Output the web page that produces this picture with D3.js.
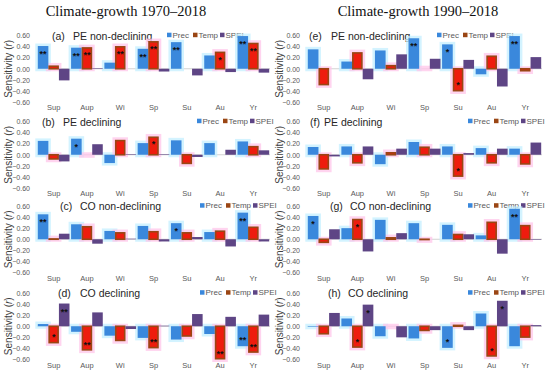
<!DOCTYPE html>
<html>
<head>
<meta charset="utf-8">
<script src="https://cdn.jsdelivr.net/npm/d3@7"></script>
<style>
  body { margin: 0; background: #fff; }
  text { font-family: Arial, "Liberation Sans", sans-serif; }
</style>
</head>
<body>
<svg id="chart" width="550" height="377"></svg>
<script>
// categories / series
const seasons = ["Sup", "Aup", "Wi", "Sp", "Su", "Au", "Yr"];
const seriesNames = ["Prec", "Temp", "SPEI"];
const yTicks = [0.6, 0.4, 0.2, 0, -0.2, -0.4, -0.6];
const periodTitles = ["Climate-growth 1970\u20132018", "Climate-growth 1990\u20132018"];
const panelLetters = ["(a)", "(b)", "(c)", "(d)", "(e)", "(f)", "(g)", "(h)"];
const panelNames = ["PE non-declining", "PE declining", "CO non-declining", "CO declining",
                    "PE non-declining", "PE declining", "CO non-declining", "CO declining"];

// (a) 1970-2018 PE non-declining
const precA = [0.41, 0.38, 0.11, 0.36, 0.48, 0.24, 0.59];
const tempA = [0.06, 0.39, 0.41, 0.50, 0.00, 0.31, 0.47];
const speiA = [-0.21, 0.01, 0.00, -0.05, -0.12, -0.06, -0.07];
const precSigA = ["**", "**", "", "**", "**", "", "**"];
const tempSigA = ["", "**", "**", "**", "", "*", "**"];
const speiSigA = ["", "", "", "", "", "", ""];
// (b) 1970-2018 PE declining
const precB = [0.25, 0.29, -0.15, 0.21, 0.26, 0.21, 0.24];
const tempB = [-0.09, -0.01, 0.27, 0.33, -0.17, 0.00, 0.16];
const speiB = [-0.12, 0.19, 0.01, 0.01, -0.04, 0.09, 0.08];
const precSigB = ["", "*", "", "", "", "", ""];
const tempSigB = ["", "", "", "*", "", "", ""];
const speiSigB = ["", "", "", "", "", "", ""];
// (c) 1970-2018 CO non-declining
const precC = [0.45, 0.27, 0.15, 0.24, 0.29, 0.13, 0.48];
const tempC = [0.02, 0.24, 0.13, 0.15, 0.13, 0.16, 0.23];
const speiC = [0.10, -0.08, 0.01, -0.04, 0.04, -0.13, -0.04];
const precSigC = ["**", "", "", "", "*", "", "**"];
const tempSigC = ["", "", "", "", "", "", ""];
const speiSigC = ["", "", "", "", "", "", ""];
// (d) 1970-2018 CO declining
const precD = [0.04, -0.10, -0.17, -0.21, -0.24, -0.14, -0.36];
const tempD = [-0.31, -0.44, -0.27, -0.40, -0.19, -0.60, -0.48];
const speiD = [0.41, 0.25, -0.05, 0.01, 0.22, 0.17, 0.21];
const precSigD = ["", "", "", "", "", "", "**"];
const tempSigD = ["*", "**", "", "**", "", "**", "**"];
const speiSigD = ["**", "", "", "", "", "", ""];
// (e) 1990-2018 PE non-declining
const precE = [0.35, 0.13, 0.33, 0.55, 0.44, -0.10, 0.59];
const tempE = [-0.30, 0.30, 0.07, 0.01, -0.41, 0.24, -0.05];
const speiE = [0.00, -0.19, 0.26, 0.18, 0.16, -0.32, 0.21];
const precSigE = ["", "", "", "**", "*", "", "**"];
const tempSigE = ["", "", "", "", "*", "", ""];
const speiSigE = ["", "", "", "", "", "", ""];
// (f) 1990-2018 PE declining
const precF = [0.14, 0.15, -0.17, 0.23, 0.15, 0.12, 0.11];
const tempF = [-0.27, -0.16, 0.05, 0.15, -0.40, -0.16, -0.18];
const speiF = [-0.03, 0.15, 0.11, 0.11, 0.03, 0.11, 0.22];
const precSigF = ["", "", "", "", "", "", ""];
const tempSigF = ["", "", "", "", "*", "", ""];
const speiSigF = ["", "", "", "", "", "", ""];
// (g) 1990-2018 CO non-declining
const precG = [0.42, 0.20, 0.35, 0.29, 0.26, 0.07, 0.55];
const tempG = [-0.07, 0.37, 0.04, -0.02, 0.10, 0.32, 0.26];
const speiG = [0.18, -0.22, 0.11, 0.00, 0.09, -0.26, -0.01];
const precSigG = ["*", "", "", "", "", "", "**"];
const tempSigG = ["", "*", "", "", "", "", ""];
const speiSigG = ["", "", "", "", "", "", ""];
// (h) 1990-2018 CO declining
const precH = [-0.01, 0.14, -0.18, -0.22, -0.39, 0.23, -0.36];
const tempH = [-0.15, -0.39, -0.01, -0.09, 0.03, -0.55, -0.21];
const speiH = [0.24, 0.39, -0.20, -0.07, -0.07, 0.46, 0.02];
const precSigH = ["", "", "", "", "*", "", ""];
const tempSigH = ["", "*", "", "", "", "*", ""];
const speiSigH = ["", "*", "", "", "", "*", ""];

const panels = [
  [precA, tempA, speiA, precSigA, tempSigA, speiSigA],
  [precB, tempB, speiB, precSigB, tempSigB, speiSigB],
  [precC, tempC, speiC, precSigC, tempSigC, speiSigC],
  [precD, tempD, speiD, precSigD, tempSigD, speiSigD],
  [precE, tempE, speiE, precSigE, tempSigE, speiSigE],
  [precF, tempF, speiF, precSigF, tempSigF, speiSigF],
  [precG, tempG, speiG, precSigG, tempSigG, speiSigG],
  [precH, tempH, speiH, precSigH, tempSigH, speiSigH]
];

// layout
const colX = [[37, 270], [307, 542]];
const rowTop = [35.5, 121.5, 206, 293];
const plotH = 66.5;
const letterX = [52, 42, 60, 58, 309, 310, 330, 328];
const nameX = [73, 63, 80, 80, 331, 324, 350, 348];
const legendX = [167, 197, 200, 200, 437, 468, 468, 468];
const legendStep = [0, 26, 53];
const fill = { Prec: "#3a88dc", Temp: "#ee1c0e", SPEI: "#5e4585" };
const glow = { Prec: "#c4efff", Temp: "#ffc6ea", SPEI: "#ece6f4" };
const legendFill = { Prec: "#3a88dc", Temp: "#9a4614", SPEI: "#5e4585" };

const svg = d3.select("#chart");

periodTitles.forEach((t, i) => {
  svg.append("text")
    .attr("x", i ? 418 : 126).attr("y", 16)
    .attr("text-anchor", "middle")
    .style("font-family", "'Liberation Serif', 'DejaVu Serif', serif")
    .style("font-size", "14.5px")
    .attr("fill", "#111")
    .text(t);
});

panels.forEach((p, pi) => {
  const col = pi < 4 ? 0 : 1;
  const top = rowTop[pi % 4];
  const [x0, x1] = colX[col];
  const y = d3.scaleLinear().domain([-0.6, 0.6]).range([top + plotH, top]);
  const x = d3.scaleBand().domain(seasons).range([x0, x1]);
  const xs = d3.scaleBand().domain(seriesNames).range([0.8, x.bandwidth() - 0.8]);
  const g = svg.append("g");

  // y tick labels
  g.append("g")
    .attr("transform", `translate(${x0},0)`)
    .call(d3.axisLeft(y).tickValues(yTicks).tickSize(0).tickPadding(7).tickFormat(d3.format(".2f")))
    .call(a => a.select(".domain").remove())
    .selectAll("text")
    .attr("font-family", "Arial, 'Liberation Sans', sans-serif")
    .attr("font-size", 7)
    .attr("fill", "#595959");

  // category labels
  g.append("g")
    .attr("transform", `translate(0,${top + plotH})`)
    .call(d3.axisBottom(x).tickSize(0).tickPadding(3))
    .call(a => a.select(".domain").remove())
    .selectAll("text")
    .attr("font-family", "Arial, 'Liberation Sans', sans-serif")
    .attr("font-size", 7.5)
    .attr("fill", "#595959");

  // y title
  const yt = g.append("text")
    .attr("transform", `translate(${col ? 283 : 12},${top + plotH / 2}) rotate(-90)`)
    .attr("text-anchor", "middle")
    .attr("font-size", 10)
    .attr("fill", "#404040");
  yt.append("tspan").text("Sensitivity (");
  yt.append("tspan").attr("font-style", "italic").text("r");
  yt.append("tspan").text(")");

  // zero line
  g.append("line")
    .attr("x1", x0).attr("x2", x1)
    .attr("y1", y(0)).attr("y2", y(0))
    .attr("stroke", "#c8c8c8").attr("stroke-width", 0.8);

  // panel title
  g.append("text").attr("x", letterX[pi]).attr("y", top + 4)
    .attr("font-size", 10.5).attr("fill", "#262626").text(panelLetters[pi]);
  g.append("text").attr("x", nameX[pi]).attr("y", top + 4)
    .attr("font-size", 10.5).attr("fill", "#262626").text(panelNames[pi]);

  // legend
  seriesNames.forEach((s, si) => {
    const lx = legendX[pi] + legendStep[si];
    g.append("rect").attr("x", lx).attr("y", top - 2.8).attr("width", 4.5).attr("height", 4.5)
      .attr("fill", legendFill[s]);
    g.append("text").attr("x", lx + 5.5).attr("y", top + 2.3)
      .attr("font-size", 8).attr("fill", "#595959").text(s);
  });

  // bars
  const rows = [];
  seasons.forEach((c, i) => {
    seriesNames.forEach((s, si) => {
      rows.push({ c, s, v: p[si][i], sig: p[si + 3][i] });
    });
  });

  g.append("g").selectAll("rect").data(rows.filter(d => d.s !== "SPEI" && d.v !== 0)).join("rect")
    .attr("x", d => x(d.c) + xs(d.s) - 2.5)
    .attr("width", xs.bandwidth() + 5)
    .attr("y", d => y(Math.max(d.v, 0)) - 2.5)
    .attr("height", d => Math.abs(y(d.v) - y(0)) + 5)
    .attr("fill", d => glow[d.s])
    .attr("opacity", 0.75);

  g.append("g").selectAll("rect").data(rows).join("rect")
    .attr("x", d => x(d.c) + xs(d.s) + (d.s === "Temp" ? 0.8 : 0))
    .attr("width", d => xs.bandwidth() - (d.s === "Temp" ? 1.6 : 0))
    .attr("y", d => y(Math.max(d.v, 0)) + (d.s === "Temp" && d.v > 0 ? 0.8 : 0))
    .attr("height", d => Math.max(0, Math.abs(y(d.v) - y(0)) - (d.s === "Temp" ? 0.8 : 0)))
    .attr("fill", d => fill[d.s])
    .attr("stroke", d => d.s === "Temp" ? "#9a4614" : "none")
    .attr("stroke-width", 1.6);

  // significance marks
  g.append("g").selectAll("text").data(rows.filter(d => d.sig)).join("text")
    .attr("x", d => x(d.c) + xs(d.s) + xs.bandwidth() / 2)
    .attr("y", d => d.v > 0 ? y(d.v) + 11 : y(d.v) - 3)
    .attr("text-anchor", "middle")
    .attr("font-size", 9)
    .attr("font-weight", "bold")
    .attr("fill", "#111")
    .text(d => d.sig);
});
</script>
</body>
</html>
